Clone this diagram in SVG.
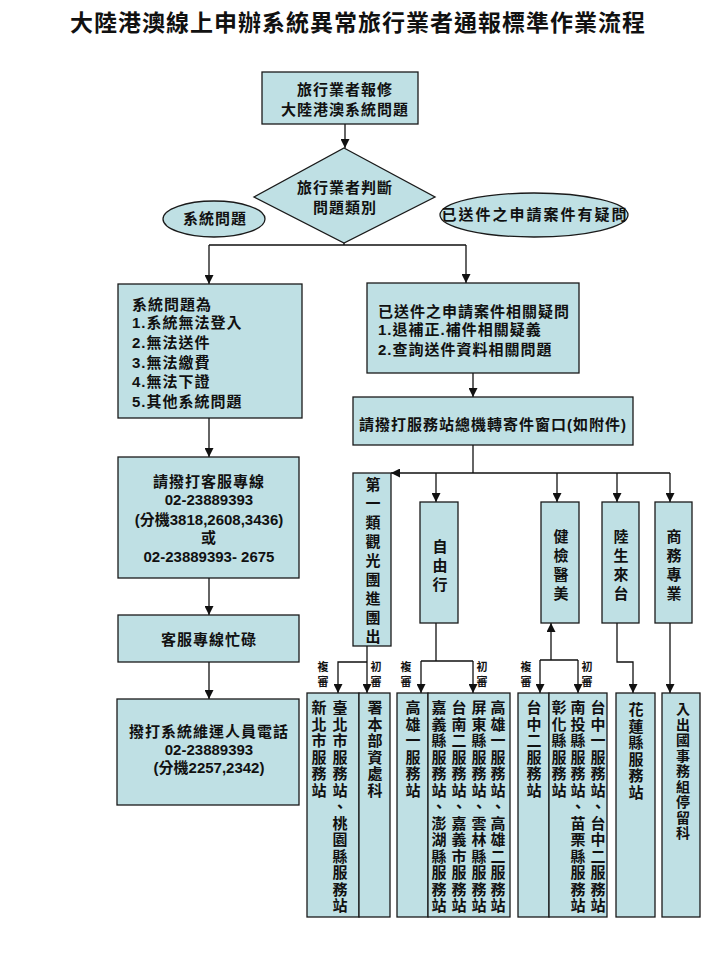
<svg xmlns="http://www.w3.org/2000/svg" width="720" height="960" viewBox="0 0 720 960">
<style>
.box{fill:#bfe0e4;stroke:#1a1a1a;stroke-width:1.3}
.t{font-family:"Liberation Sans","Noto Sans CJK TC",sans-serif;font-size:15px;font-weight:bold;fill:#111;letter-spacing:1px}
.c{text-anchor:middle}
.v{writing-mode:vertical-rl;letter-spacing:1.5px}
.vw{writing-mode:vertical-rl;letter-spacing:4px}
.lb{font-family:"Noto Sans CJK TC",sans-serif;font-size:11px;font-weight:bold;fill:#111;writing-mode:vertical-rl;letter-spacing:4px}
.ln{fill:none;stroke:#111;stroke-width:1.3}
.ar{marker-end:url(#ah)}
</style>
<defs>
<marker id="ah" markerUnits="userSpaceOnUse" markerWidth="9" markerHeight="9" refX="9" refY="4.5" orient="auto"><path d="M0,0 L9,4.5 L0,9 z" fill="#111"/></marker>
</defs>
<rect width="720" height="960" fill="#fff"/>
<text x="358" y="31" class="t c" style="font-size:23px;letter-spacing:1px">大陸港澳線上申辦系統異常旅行業者通報標準作業流程</text>

<g id="connectors">
<path class="ln ar" d="M345,124 V148"/>
<path class="ln" d="M344,243 V245 M209,245 H466"/>
<path class="ln ar" d="M209,245 V284"/>
<path class="ln ar" d="M466,245 V283"/>
<path class="ln ar" d="M209,418 V457"/>
<path class="ln ar" d="M209,578 V615"/>
<path class="ln ar" d="M209,662 V699"/>
<path class="ln ar" d="M473,373 V397"/>
<path class="ln" d="M473,445 V473"/>
<path class="ln ar" d="M670,473 H391"/>
<path class="ln ar" d="M436,473 V502"/>
<path class="ln ar" d="M557,473 V502"/>
<path class="ln ar" d="M617,473 V502"/>
<path class="ln ar" d="M670,473 V502"/>
<path class="ln ar" d="M367,646 V693"/>
<path class="ln ar" d="M367,662 H338 V693"/>
<path class="ln" d="M436,623 V661 M421,661 H473"/>
<path class="ln ar" d="M421,661 V693"/>
<path class="ln ar" d="M473,661 V693"/>
<path class="ln ar" d="M551,660 V623"/>
<path class="ln" d="M540,660 H578"/>
<path class="ln ar" d="M540,660 V693"/>
<path class="ln ar" d="M578,660 V693"/>
<path class="ln ar" d="M617,623 V662 H633 V693"/>
<path class="ln ar" d="M670,623 V693"/>
</g>

<g id="report">
<rect class="box" x="262" y="72" width="156" height="52"/>
<text class="t c" x="345" y="95">旅行業者報修</text>
<text class="t c" x="345" y="115">大陸港澳系統問題</text>
</g>
<g id="judge">
<polygon class="box" points="344,148 435,197 344,243 254,197"/>
<text class="t c" x="345" y="193">旅行業者判斷</text>
<text class="t c" x="345" y="213">問題類別</text>
</g>
<g id="label-system">
<ellipse class="box" cx="214" cy="219" rx="51" ry="18"/>
<text class="t c" x="215" y="224">系統問題</text>
</g>
<g id="label-case">
<ellipse class="box" cx="534" cy="215" rx="94" ry="22"/>
<text class="t c" x="535" y="220" style="letter-spacing:2px">已送件之申請案件有疑問</text>
</g>
<g id="system-issues">
<rect class="box" x="118" y="284" width="184" height="134"/>
<text class="t" x="132" y="310">系統問題為</text>
<text class="t" x="132" y="328">1.系統無法登入</text>
<text class="t" x="132" y="348">2.無法送件</text>
<text class="t" x="132" y="368">3.無法繳費</text>
<text class="t" x="132" y="387">4.無法下證</text>
<text class="t" x="132" y="407">5.其他系統問題</text>
</g>
<g id="case-issues">
<rect class="box" x="367" y="283" width="212" height="90"/>
<text class="t" x="378" y="317">已送件之申請案件相關疑問</text>
<text class="t" x="378" y="335">1.退補正.補件相關疑義</text>
<text class="t" x="378" y="355">2.查詢送件資料相關問題</text>
</g>
<g id="call-station">
<rect class="box" x="353" y="397" width="280" height="48"/>
<text class="t c" x="493" y="430">請撥打服務站總機轉寄件窗口(如附件)</text>
</g>
<g id="hotline">
<rect class="box" x="118" y="457" width="181" height="121"/>
<text class="t c" x="209" y="487">請撥打客服專線</text>
<text class="t c" x="209" y="505" style="letter-spacing:0">02-23889393</text>
<text class="t c" x="209" y="525" style="letter-spacing:0">(分機3818,2608,3436)</text>
<text class="t c" x="209" y="543">或</text>
<text class="t c" x="209" y="562" style="letter-spacing:0">02-23889393- 2675</text>
</g>
<g id="busy">
<rect class="box" x="118" y="615" width="181" height="47"/>
<text class="t c" x="209" y="645">客服專線忙碌</text>
</g>
<g id="maintainer">
<rect class="box" x="117" y="699" width="182" height="106"/>
<text class="t c" x="209" y="737">撥打系統維運人員電話</text>
<text class="t c" x="209" y="755" style="letter-spacing:0">02-23889393</text>
<text class="t c" x="209" y="773" style="letter-spacing:0">(分機2257,2342)</text>
</g>

<g id="cat-group">
<rect class="box" x="353" y="473" width="38" height="173"/>
<text class="t vw" x="372" y="477">第一類觀光團進團出</text>
</g>
<g id="cat-free">
<rect class="box" x="420" y="502" width="38" height="121"/>
<text class="t vw" x="439" y="539">自由行</text>
</g>
<g id="cat-medical">
<rect class="box" x="541" y="502" width="38" height="121"/>
<text class="t vw" x="560" y="529">健檢醫美</text>
</g>
<g id="cat-student">
<rect class="box" x="602" y="502" width="37" height="121"/>
<text class="t vw" x="620" y="529">陸生來台</text>
</g>
<g id="cat-business">
<rect class="box" x="655" y="502" width="37" height="121"/>
<text class="t vw" x="673" y="529">商務專業</text>
</g>

<g id="review-labels">
<text class="lb" x="323" y="661">複審</text>
<text class="lb" x="376" y="661">初審</text>
<text class="lb" x="406" y="661">複審</text>
<text class="lb" x="482" y="661">初審</text>
<text class="lb" x="526" y="661">複審</text>
<text class="lb" x="587" y="661">初審</text>
</g>

<g id="b1-review">
<rect class="box" x="307" y="693" width="52" height="224"/>
<text class="t v" x="318" y="700">新北市服務站</text>
<text class="t v" x="339" y="700">臺北市服務站、桃園縣服務站</text>
</g>
<g id="b1-first">
<rect class="box" x="359" y="693" width="31" height="224"/>
<text class="t v" x="374" y="700">署本部資處科</text>
</g>
<g id="b2-review">
<rect class="box" x="397" y="693" width="31" height="224"/>
<text class="t v" x="412" y="700">高雄一服務站</text>
</g>
<g id="b2-first">
<rect class="box" x="428" y="693" width="82" height="224"/>
<text class="t v" x="497" y="700">高雄一服務站、高雄二服務站</text>
<text class="t v" x="478" y="700">屏東縣服務站、雲林縣服務站</text>
<text class="t v" x="458" y="700">台南二服務站、嘉義市服務站</text>
<text class="t v" x="438" y="700">嘉義縣服務站、澎湖縣服務站</text>
</g>
<g id="b3-review">
<rect class="box" x="518" y="693" width="31" height="224"/>
<text class="t v" x="533" y="700">台中二服務站</text>
</g>
<g id="b3-first">
<rect class="box" x="549" y="693" width="58" height="224"/>
<text class="t v" x="597" y="700">台中一服務站、台中二服務站</text>
<text class="t v" x="577" y="700">南投縣服務站、苗栗縣服務站</text>
<text class="t v" x="558" y="700">彰化縣服務站</text>
</g>
<g id="b4">
<rect class="box" x="616" y="693" width="39" height="224"/>
<text class="t v" x="635" y="702">花蓮縣服務站</text>
</g>
<g id="b5">
<rect class="box" x="662" y="693" width="38" height="224"/>
<text class="t v" x="682" y="702" style="font-size:14px;letter-spacing:1.5px">入出國事務組停留科</text>
</g>
</svg>
